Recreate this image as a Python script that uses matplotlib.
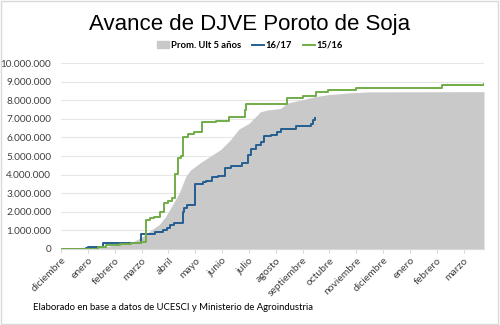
import numpy as np
import matplotlib
matplotlib.use("Agg")
import matplotlib.pyplot as plt
from matplotlib.ticker import FuncFormatter
from matplotlib.patches import Rectangle
from matplotlib.lines import Line2D
from matplotlib.patches import Patch

# eje x en meses desde el 1 de diciembre, valores en millones de toneladas
meses = ['diciembre', 'enero', 'febrero', 'marzo', 'abril', 'mayo', 'junio',
         'julio', 'agosto', 'septiembre', 'octubre', 'noviembre', 'diciembre',
         'enero', 'febrero', 'marzo']

prom_mes = [0, 1.0, 1.5, 2.0, 2.7, 2.97, 3.22, 3.45, 3.65, 3.9, 4.15, 4.4, 4.65,
            4.83, 5.2, 5.58, 5.95, 6.3, 6.63, 7.0, 7.13, 7.43, 7.68, 8.18, 8.43,
            8.92, 9.45, 9.95, 10.8, 11.5, 15.76]
prom_val = [0, 0.02, 0.1, 0.2, 0.4, 0.6, 0.85, 1.1, 1.3, 1.74, 2.37, 3.0, 3.9,
            4.25, 4.65, 5.0, 5.35, 5.85, 6.45, 6.75, 6.94, 7.38, 7.47, 7.56, 7.85,
            8.0, 8.19, 8.3, 8.4, 8.45, 8.46]

c1617_mes = [0, 0.93, 1.0, 1.56, 2.97, 3.5, 3.8, 3.96, 4.05, 4.2, 4.53, 4.6, 4.7,
             5.0, 5.28, 5.4, 5.64, 5.85, 6.12, 6.33, 6.75, 6.95, 7.07, 7.26, 7.44,
             7.57, 7.82, 8.06, 8.2, 8.75, 9.33, 9.4, 9.48]
c1617_val = [0, 0.05, 0.1, 0.3, 0.8, 0.9, 1.0, 1.15, 1.3, 1.4, 2.0, 2.2, 2.35,
             3.5, 3.6, 3.65, 3.85, 3.9, 4.35, 4.45, 4.6, 5.05, 5.4, 5.6, 5.75,
             6.05, 6.13, 6.27, 6.45, 6.63, 6.7, 6.94, 7.06]

c1516_mes = [0, 1.36, 1.67, 2.2, 2.6, 2.97, 3.16, 3.3, 3.45, 3.68, 3.84, 3.99,
             4.12, 4.24, 4.37, 4.46, 4.56, 4.74, 4.95, 5.26, 5.77, 6.26, 6.85,
             6.9, 8.42, 9.02, 9.5, 9.95, 11.0, 14.2, 15.76]
c1516_val = [0, 0.1, 0.2, 0.25, 0.3, 0.4, 1.56, 1.65, 1.7, 2.0, 2.45, 2.6,
             2.75, 4.05, 4.9, 5.0, 6.0, 6.18, 6.3, 6.85, 6.9, 7.1, 7.5,
             7.8, 8.13, 8.25, 8.45, 8.55, 8.67, 8.82, 8.85]

gris = '#c9c9c9'
azul = '#255e91'
verde = '#70ad47'
txt = '#404040'

plt.rcParams['font.family'] = ['Lato', 'DejaVu Sans']

fig = plt.figure(figsize=(5, 3.25), dpi=100)
ax = fig.add_axes([0.122, 0.234, 0.846, 0.572])

ax.fill_between(prom_mes, np.array(prom_val) * 1e6, color=gris, lw=0, zorder=2)
ax.plot(c1617_mes, np.array(c1617_val) * 1e6, color=azul, lw=1.4,
        drawstyle='steps-post', zorder=3)
ax.plot(c1516_mes, np.array(c1516_val) * 1e6, color=verde, lw=1.4,
        drawstyle='steps-post', zorder=3)

ax.set_xlim(0, 15.76)
ax.set_ylim(0, 10e6)
ax.set_yticks(np.arange(0, 10.5e6, 1e6))
ax.yaxis.set_major_formatter(FuncFormatter(lambda v, p: '{:,.0f}'.format(v).replace(',', '.')))
ax.grid(axis='y', color='#e6e6e6', lw=0.8, zorder=0)
ax.set_axisbelow(True)
for s in ['top', 'right', 'left']:
    ax.spines[s].set_visible(False)
ax.spines['bottom'].set_color('#d9d9d9')
ax.tick_params(axis='y', length=0, labelsize=7.2, labelcolor=txt, pad=7)
ax.set_xticks(range(len(meses)))
ax.set_xticklabels(meses, rotation=45, ha='right', rotation_mode='anchor')
ax.tick_params(axis='x', length=3, color='#d9d9d9', labelsize=7.5,
               labelcolor=txt, pad=2)

fig.text(0.5, 0.908, 'Avance de DJVE Poroto de Soja', ha='center', va='baseline',
         fontsize=16, family='Liberation Sans', color='black')

handles = [Patch(color=gris), Line2D([], [], color=azul, lw=1.4),
           Line2D([], [], color=verde, lw=1.4)]
fig.legend(handles, ['Prom. Ult 5 años', '16/17', '15/16'], loc='center',
           bbox_to_anchor=(0.5, 0.86), ncol=3, frameon=False,
           prop={'weight': 'bold', 'size': 6.8}, handlelength=1.3,
           handletextpad=0.2, columnspacing=1.1)

fig.text(0.066, 0.055, 'Elaborado en base a datos de UCESCI y Ministerio de Agroindustria',
         ha='left', va='center', fontsize=6.8, color='black')

fig.patches.append(Rectangle((0.002, 0.003), 0.994, 0.993, transform=fig.transFigure,
                             fill=False, edgecolor='#d9d9d9', lw=1))

fig.savefig('out.png', dpi=100, facecolor='white')
